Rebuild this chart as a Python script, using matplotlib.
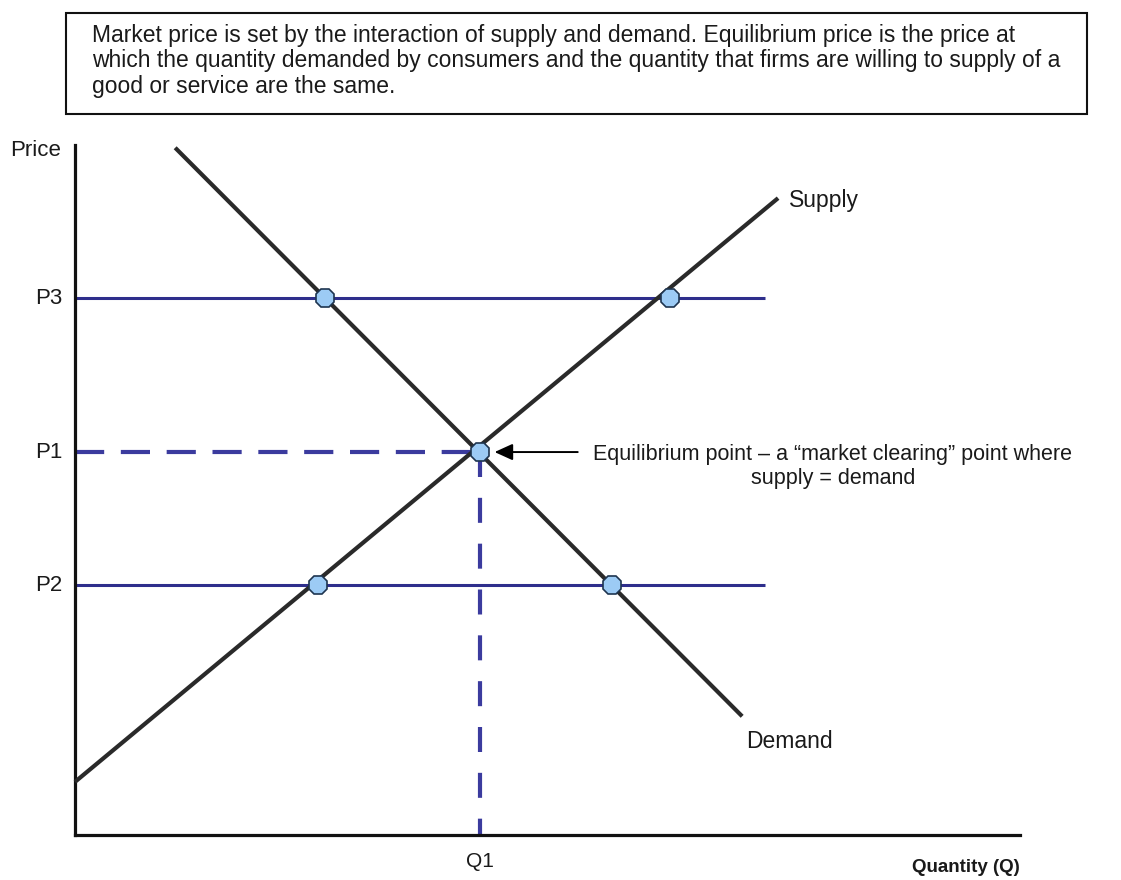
import matplotlib
matplotlib.use("Agg")
import matplotlib.pyplot as plt
from matplotlib.patches import Rectangle

plt.rcParams['font.family'] = ['Liberation Sans', 'DejaVu Sans']

# ---- data (arbitrary units: Q 0..10, P 0..10) ----
demand_q = [1.06, 7.06]
demand_p = [9.96, 1.72]
supply_q = [0.0, 7.44]
supply_p = [0.77, 9.23]
q1 = 4.29
p1 = 5.55
p2 = 3.62
p3 = 7.78
hline_end_q = 7.30
price_labels = ["P3", "P1", "P2"]
price_values = [p3, p1, p2]
marker_q = [2.65, 6.30, 2.57, 5.68, q1]
marker_p = [p3, p3, p2, p2, p1]

box_text = ("Market price is set by the interaction of supply and demand. Equilibrium price is the price at\n"
            "which the quantity demanded by consumers and the quantity that firms are willing to supply of a\n"
            "good or service are the same.")
eq_text = "Equilibrium point \u2013 a \u201cmarket clearing\u201d point where\nsupply = demand"

W, H = 1121, 880
fig = plt.figure(figsize=(W / 100, H / 100), dpi=100)
ax_l, ax_r, ax_t, ax_b = 75, 1020, 145, 835
ax = fig.add_axes([ax_l / W, 1 - ax_b / H, (ax_r - ax_l) / W, (ax_b - ax_t) / H])
ax.set_xlim(0, 10)
ax.set_ylim(0, 10)
for s in ['top', 'right']:
    ax.spines[s].set_visible(False)
for s in ['left', 'bottom']:
    ax.spines[s].set_linewidth(2.3)
    ax.spines[s].set_color('#111111')
ax.set_xticks([])
ax.set_yticks([])

navy = '#2E2E8C'
dash_c = '#3B3B9E'
# horizontal price lines
ax.plot([0, hline_end_q], [p3, p3], color=navy, lw=2.2, solid_capstyle='butt', zorder=2)
ax.plot([0, hline_end_q], [p2, p2], color=navy, lw=2.2, solid_capstyle='butt', zorder=2)
# dashed equilibrium lines
ax.plot([0, q1], [p1, p1], color=dash_c, lw=3, dashes=(7, 4), zorder=2)
ax.plot([q1, q1], [p1, 0], color=dash_c, lw=3, dashes=(6, 5), zorder=2, clip_on=False)

# demand / supply
ax.plot(demand_q, demand_p, color='#2a2a2a', lw=3, solid_capstyle='butt', zorder=3)
ax.plot(supply_q, supply_p, color='#2a2a2a', lw=3, solid_capstyle='butt', zorder=3, clip_on=False)

# markers
ax.plot(marker_q, marker_p, linestyle='none', marker='8', markersize=14,
        markerfacecolor='#9CCBF5', markeredgecolor='#1E3550', markeredgewidth=1.2, zorder=5)

# arrow
ax.annotate('', xy=(q1 + 0.15, p1), xytext=(5.32, p1),
            arrowprops=dict(arrowstyle='-|>,head_length=1.1,head_width=0.5', color='black', lw=1.4,
                            shrinkA=0, shrinkB=0), zorder=6)

fs = 16
# labels
fig.text(10 / W, 1 - 151 / H, "Price", fontsize=fs, ha='left', va='center', color='#1a1a1a')
for lab, pv in zip(price_labels, price_values):
    ax.text(-0.13, pv, lab, fontsize=fs, ha='right', va='center', color='#1a1a1a')
ax.text(q1, -0.38, "Q1", fontsize=15, ha='center', va='center', color='#1a1a1a')
ax.text(10.0, -0.47, "Quantity (Q)", fontsize=13.5, ha='right', va='center', fontweight='bold', color='#1a1a1a')
ax.text(7.56, 9.2, "Supply", fontsize=16.5, ha='left', va='center', color='#1a1a1a')
ax.text(7.1, 1.35, "Demand", fontsize=16.5, ha='left', va='center', color='#1a1a1a')
ax.text(8.02, 5.34, eq_text, fontsize=15.5, ha='center', va='center', color='#1a1a1a',
        multialignment='center', linespacing=1.2)

# text box at top
fig.add_artist(Rectangle((66 / W, 1 - 114 / H), (1087 - 66) / W, (114 - 13) / H,
                         transform=fig.transFigure, fill=False, edgecolor='#111111', lw=1.5))
fig.text(92 / W, 1 - 61 / H, box_text, fontsize=16.5, ha='left', va='center', color='#1a1a1a',
         linespacing=1.15)

fig.savefig("out.png", dpi=100, facecolor='white')
